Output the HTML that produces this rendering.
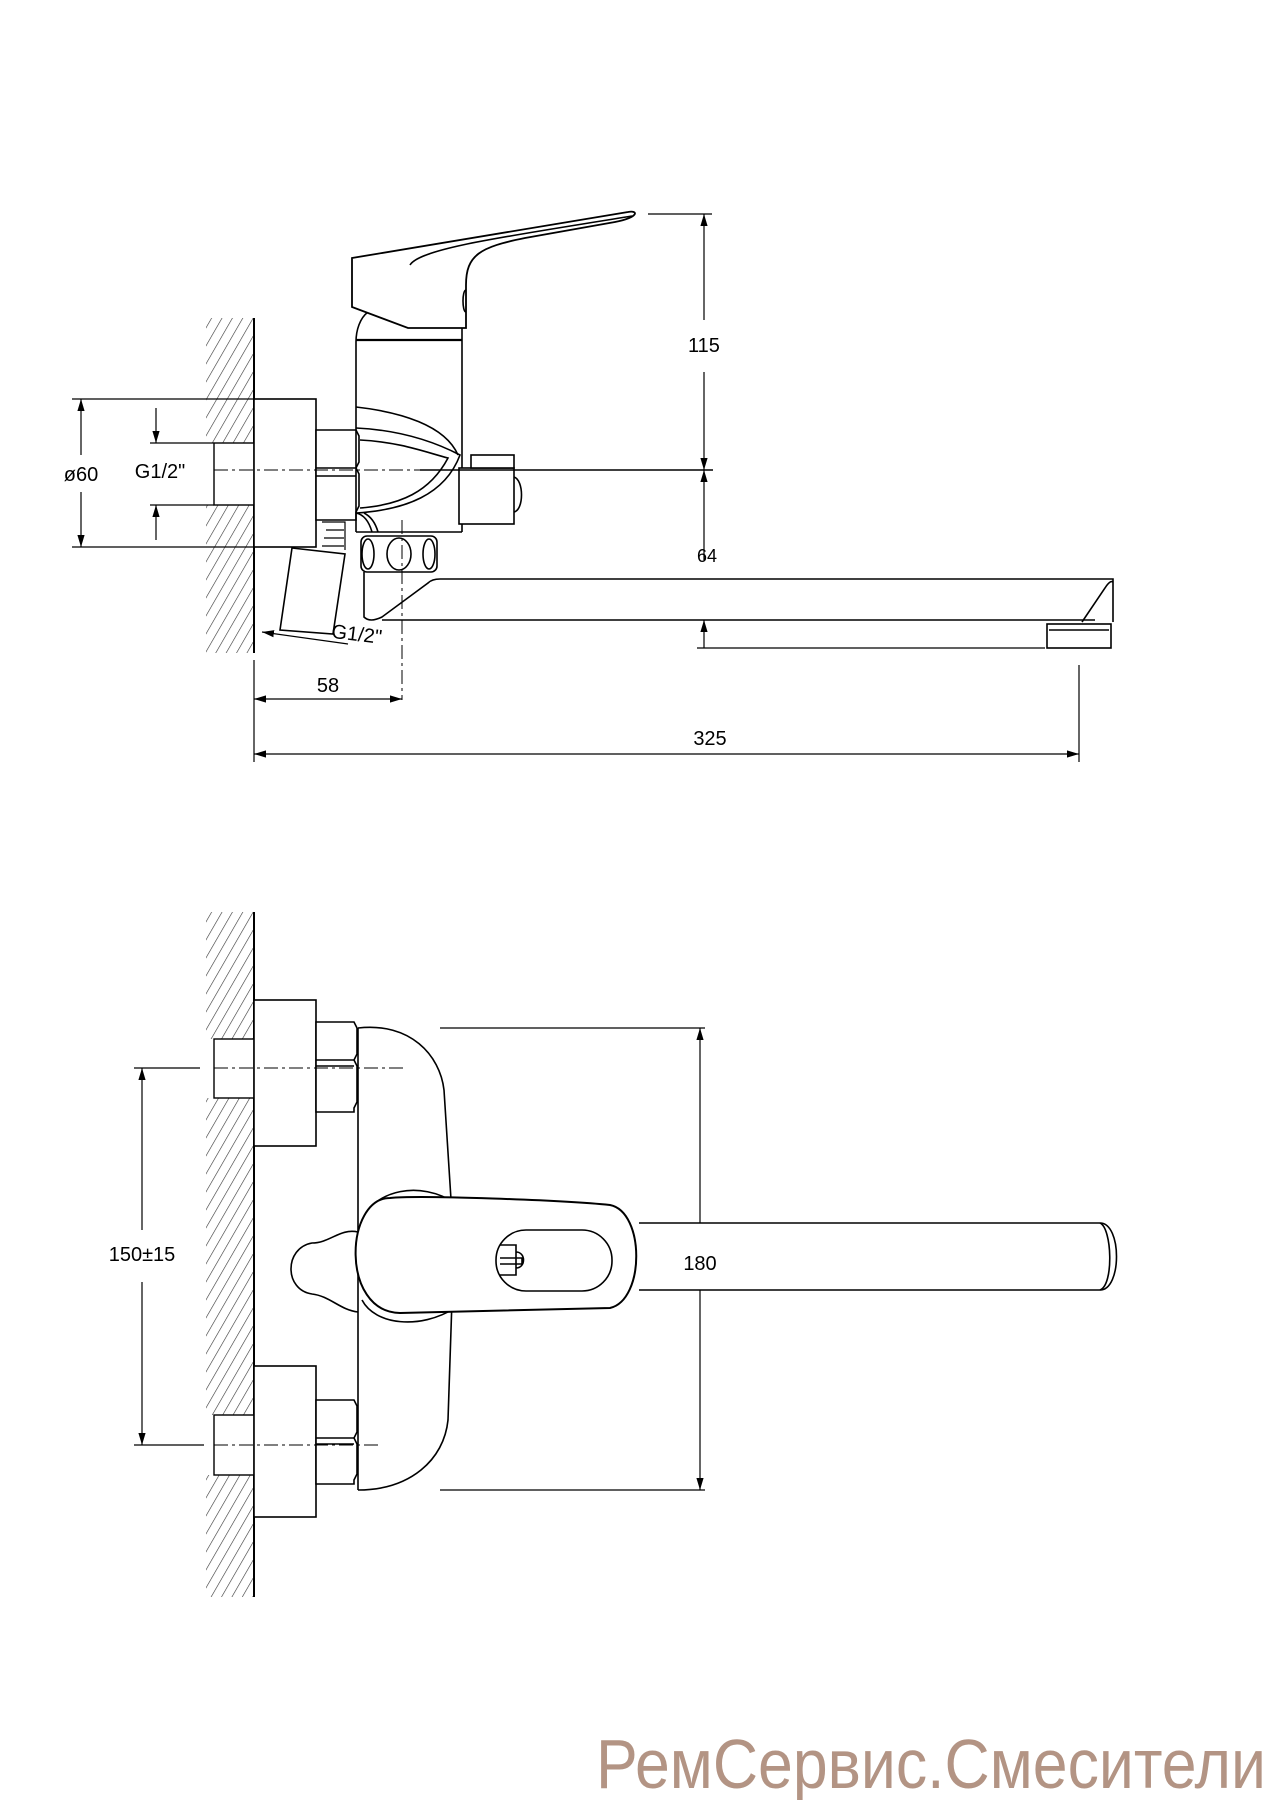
<!DOCTYPE html>
<html><head><meta charset="utf-8"><style>html,body{margin:0;padding:0;background:#fff}svg{display:block}</style></head>
<body>
<svg width="1272" height="1800" viewBox="0 0 1272 1800" xmlns="http://www.w3.org/2000/svg">
<defs>
<pattern id="h" patternUnits="userSpaceOnUse" width="9" height="9" patternTransform="rotate(30)">
<line x1="0" y1="0" x2="0" y2="9" stroke="#333" stroke-width="1.2"/>
</pattern>
<marker id="a" viewBox="0 0 10 10" refX="10" refY="5" markerWidth="12" markerHeight="12" markerUnits="userSpaceOnUse" orient="auto-start-reverse"><path d="M0,2 L10,5 L0,8 Z" fill="#000"/></marker>
</defs>
<g fill="none" stroke="#000" stroke-width="1.6" font-family="Liberation Sans, sans-serif">
<!-- TOP VIEW wall -->
<rect x="206" y="318" width="48" height="125" fill="url(#h)" stroke="none"/>
<rect x="206" y="505" width="48" height="148" fill="url(#h)" stroke="none"/>
<line x1="254" y1="318" x2="254" y2="653" stroke-width="2"/>
<rect x="214" y="443" width="40" height="62" fill="#fff" stroke-width="1.4"/>
<rect x="254" y="399" width="62" height="148" fill="#fff"/>
<!-- nut -->
<path d="M316,430 h40 l3,6 v26 l-3,6 l3,6 v32 l-3,6 v8 h-40 Z" fill="#fff"/>
<line x1="316" y1="468" x2="356" y2="468"/><line x1="316" y1="476" x2="356" y2="476"/>
<!-- body -->
<path d="M356,532 V342 C356,330 360,318 368,312" />
<line x1="356" y1="340" x2="462" y2="340" stroke-width="2.2"/>
<line x1="462" y1="328" x2="462" y2="532"/>
<line x1="356" y1="532" x2="462" y2="532"/>
<path d="M352,258 L352,307 L408,328 L466,328 L466,285 C466,255 480,247 525,238 L615,222 C640,217 638,210 628,212 Z" fill="#fff" stroke-width="1.8"/>
<path d="M410,265 C420,248 510,236 632,216"/>
<path d="M466,290 C462,290 462,312 466,312"/>
<path d="M356,407 C400,412 445,425 458,455"/>
<path d="M356,428 C400,430 435,442 460,455 C445,495 405,510 356,513"/>
<path d="M360,440 C400,442 425,452 448,458 C430,492 400,505 360,508"/>
<path d="M356,513 C366,515 370,525 372,532 M364,513 C372,517 376,525 378,532"/>
<rect x="459" y="468" width="55" height="56" fill="#fff"/>
<rect x="471" y="455" width="43" height="13" fill="#fff"/>
<path d="M514,477 C524,480 524,510 514,512"/>
<!-- ring -->
<rect x="361" y="536" width="76" height="36" rx="6" fill="#fff"/>
<ellipse cx="368" cy="554" rx="6" ry="15"/><ellipse cx="399" cy="554" rx="12" ry="16"/><ellipse cx="429" cy="554" rx="6" ry="15"/>
<!-- spout -->
<path d="M364,572 V617 Q370,623 382,617 L428,583 Q432,579 440,579 H1113 V622"/>
<line x1="382" y1="620" x2="1095" y2="620"/>
<path d="M1082,622 L1105,588 Q1110,580 1113,582"/>
<rect x="1047" y="624" width="64" height="24" fill="#fff"/>
<line x1="1049" y1="630" x2="1109" y2="630"/>
<!-- inlet slanted -->
<path d="M292,548 L345,554 L333,634 L280,630 Z" fill="#fff"/>
<path d="M322,522 L345,522 L345,550 M326,530 h18 M324,538 h20 M322,546 h22" stroke-width="1.2"/>
<line x1="262" y1="632" x2="348" y2="644" stroke-width="1.2" marker-start="url(#a)"/>
<text x="332" y="640" font-size="20" fill="#000" stroke="none" transform="rotate(7 350 630)">G1/2"</text>
<!-- centerlines -->
<line x1="214" y1="470" x2="420" y2="470" stroke-dasharray="14,4,3,4" stroke-width="1"/>
<line x1="420" y1="470" x2="713" y2="470" stroke-width="1.4"/>
<line x1="402" y1="520" x2="402" y2="700" stroke-dasharray="14,4,3,4" stroke-width="1"/>
<!-- dim 115 -->
<line x1="648" y1="214" x2="712" y2="214" stroke-width="1.2"/>
<line x1="704" y1="320" x2="704" y2="214" stroke-width="1.2" marker-end="url(#a)"/>
<line x1="704" y1="372" x2="704" y2="470" stroke-width="1.2" marker-end="url(#a)"/>
<line x1="704" y1="560" x2="704" y2="470" stroke-width="1.2" marker-end="url(#a)"/>
<text x="704" y="352" font-size="20" text-anchor="middle" fill="#000" stroke="none">115</text>
<!-- dim 64 -->
<line x1="704" y1="648" x2="704" y2="620" stroke-width="1.2" marker-end="url(#a)"/>
<line x1="697" y1="648" x2="1045" y2="648" stroke-width="1.2"/>
<text x="707" y="562" font-size="18" text-anchor="middle" fill="#000" stroke="none">64</text>
<!-- ø60 -->
<line x1="72" y1="399" x2="254" y2="399" stroke-width="1.2"/>
<line x1="72" y1="547" x2="254" y2="547" stroke-width="1.2"/>
<line x1="81" y1="455" x2="81" y2="399" stroke-width="1.2" marker-end="url(#a)"/>
<line x1="81" y1="492" x2="81" y2="547" stroke-width="1.2" marker-end="url(#a)"/>
<text x="81" y="481" font-size="20" text-anchor="middle" fill="#000" stroke="none">ø60</text>
<!-- G1/2 -->
<line x1="150" y1="443" x2="214" y2="443" stroke-width="1.2"/>
<line x1="150" y1="505" x2="214" y2="505" stroke-width="1.2"/>
<line x1="156" y1="408" x2="156" y2="443" stroke-width="1.2" marker-end="url(#a)"/>
<line x1="156" y1="540" x2="156" y2="505" stroke-width="1.2" marker-end="url(#a)"/>
<text x="160" y="478" font-size="20" text-anchor="middle" fill="#000" stroke="none">G1/2"</text>
<!-- 58 / 325 -->
<line x1="254" y1="660" x2="254" y2="762" stroke-width="1.2"/>
<line x1="1079" y1="665" x2="1079" y2="762" stroke-width="1.2"/>
<line x1="254" y1="699" x2="402" y2="699" stroke-width="1.2" marker-start="url(#a)" marker-end="url(#a)"/>
<line x1="254" y1="754" x2="1079" y2="754" stroke-width="1.2" marker-start="url(#a)" marker-end="url(#a)"/>
<text x="328" y="692" font-size="20" text-anchor="middle" fill="#000" stroke="none">58</text>
<text x="710" y="745" font-size="20" text-anchor="middle" fill="#000" stroke="none">325</text>

<!-- BOTTOM VIEW -->
<rect x="206" y="912" width="48" height="127" fill="url(#h)" stroke="none"/>
<rect x="206" y="1098" width="48" height="317" fill="url(#h)" stroke="none"/>
<rect x="206" y="1475" width="48" height="122" fill="url(#h)" stroke="none"/>
<line x1="254" y1="912" x2="254" y2="1597" stroke-width="2"/>
<rect x="214" y="1039" width="40" height="59" fill="#fff" stroke-width="1.4"/>
<rect x="214" y="1415" width="40" height="60" fill="#fff" stroke-width="1.4"/>
<rect x="254" y="1000" width="62" height="146" fill="#fff"/>
<rect x="254" y="1366" width="62" height="151" fill="#fff"/>
<path d="M316,1022 h38 l3,6 v26 l-3,6 l3,6 v36 l-3,6 v4 h-38 Z" fill="#fff"/>
<line x1="316" y1="1060" x2="354" y2="1060"/><line x1="316" y1="1066" x2="354" y2="1066"/>
<path d="M316,1400 h38 l3,6 v26 l-3,6 l3,6 v30 l-3,6 v4 h-38 Z" fill="#fff"/>
<line x1="316" y1="1438" x2="354" y2="1438"/><line x1="316" y1="1444" x2="354" y2="1444"/>
<line x1="214" y1="1068" x2="406" y2="1068" stroke-dasharray="14,4,3,4" stroke-width="1"/>
<line x1="214" y1="1445" x2="382" y2="1445" stroke-dasharray="14,4,3,4" stroke-width="1"/>
<!-- body -->
<line x1="358" y1="1028" x2="358" y2="1490"/>
<path d="M358,1028 C410,1022 440,1055 444,1090 L452,1215"/>
<path d="M452,1300 L448,1420 C444,1460 410,1490 358,1490"/>
<path d="M358,1232 C340,1228 330,1243 312,1243 C284,1248 284,1290 312,1294 C330,1296 340,1310 358,1312"/>
<path d="M455,1203 C420,1180 375,1190 362,1220 M362,1300 C375,1325 420,1330 455,1308"/>
<!-- handle -->
<path d="M390,1198 C420,1195 560,1200 610,1205 C645,1212 645,1300 610,1308 L400,1313 C340,1312 345,1198 390,1198 Z" fill="#fff" stroke-width="2"/>
<rect x="496" y="1230" width="116" height="61" rx="30" fill="#fff"/>
<path d="M500,1245 h16 v30 h-16 M500,1258 h22 v6 h-22 M516,1252 C526,1252 526,1268 516,1268"/>
<path d="M639,1223 H1100 C1122,1223 1122,1290 1100,1290 H639" fill="#fff"/>
<path d="M1100,1223 C1112,1228 1114,1285 1100,1290"/>
<!-- 180 -->
<line x1="440" y1="1028" x2="705" y2="1028" stroke-width="1.2"/>
<line x1="440" y1="1490" x2="705" y2="1490" stroke-width="1.2"/>
<line x1="700" y1="1223" x2="700" y2="1028" stroke-width="1.2" marker-end="url(#a)"/>
<line x1="700" y1="1290" x2="700" y2="1490" stroke-width="1.2" marker-end="url(#a)"/>
<text x="700" y="1270" font-size="20" text-anchor="middle" fill="#000" stroke="none">180</text>
<!-- 150±15 -->
<line x1="134" y1="1068" x2="200" y2="1068" stroke-width="1.2"/>
<line x1="134" y1="1445" x2="204" y2="1445" stroke-width="1.2"/>
<line x1="142" y1="1230" x2="142" y2="1068" stroke-width="1.2" marker-end="url(#a)"/>
<line x1="142" y1="1282" x2="142" y2="1445" stroke-width="1.2" marker-end="url(#a)"/>
<text x="142" y="1261" font-size="20" text-anchor="middle" fill="#000" stroke="none">150±15</text>
</g>
<text x="596" y="1788" font-family="Liberation Sans, sans-serif" font-size="70" fill="#b39484" textLength="670" lengthAdjust="spacingAndGlyphs">РемСервис.Смесители</text>
</svg>
</body></html>
